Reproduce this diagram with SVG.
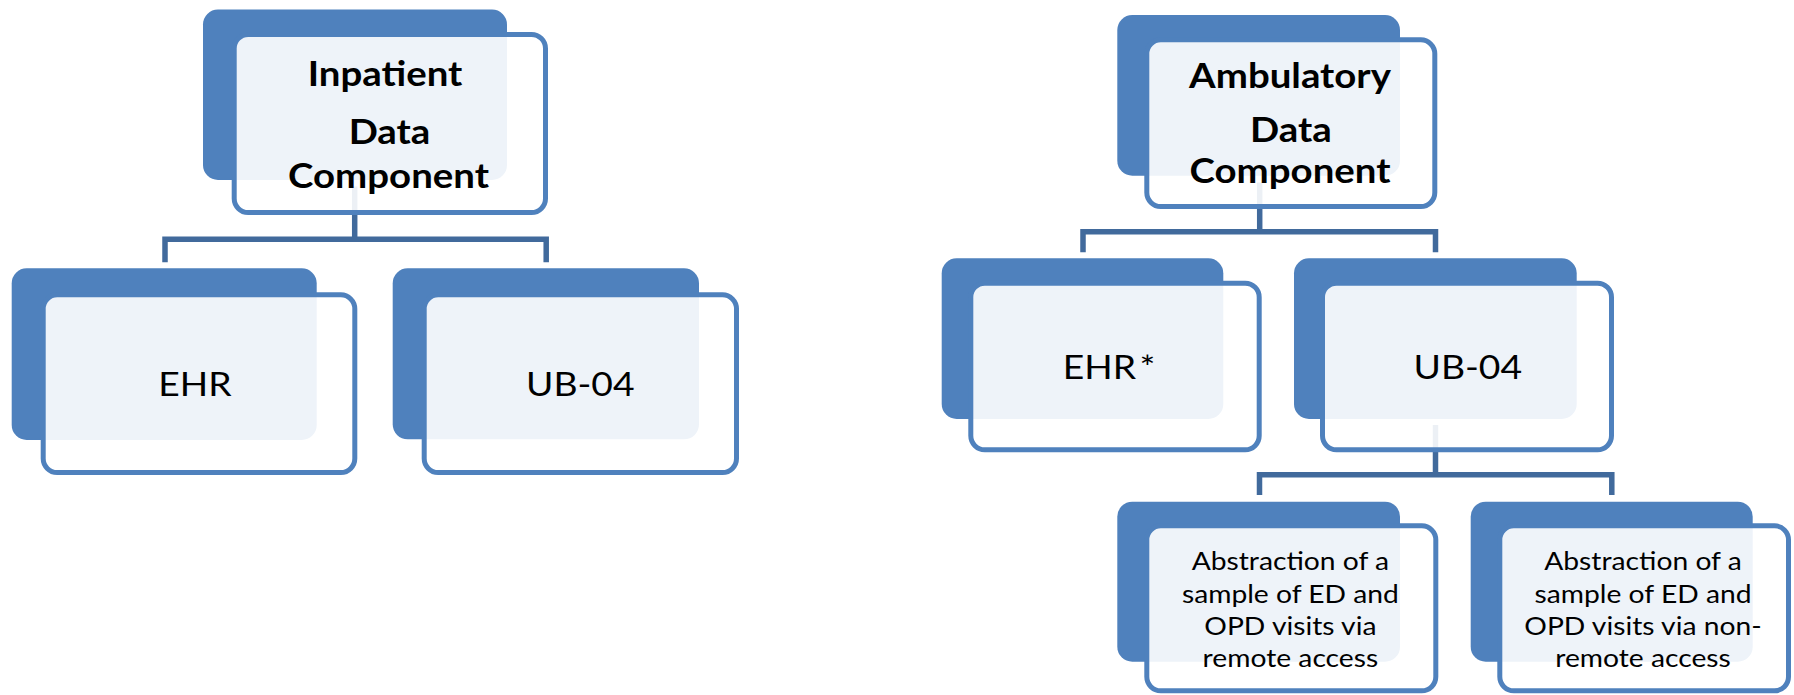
<svg xmlns="http://www.w3.org/2000/svg" width="1794" height="695" viewBox="0 0 1794 695">
<style>
.back{fill:#4F81BD;}
.front{fill:#FFFFFF;fill-opacity:0.9;stroke:#4F81BD;stroke-width:5;}
.conn{fill:none;stroke:#416A9C;stroke-width:5.5;stroke-linejoin:miter;stroke-linecap:butt;}
.title{font-family:Lato,"Liberation Sans",sans-serif;font-weight:bold;font-size:34px;fill:#000;text-anchor:middle;}
.mid{font-family:Lato,"Liberation Sans",sans-serif;font-size:33px;fill:#000;text-anchor:middle;}
.small{font-family:Lato,"Liberation Sans",sans-serif;font-size:25px;fill:#000;text-anchor:middle;}
</style>
<rect width="1794" height="695" fill="#FFFFFF"/>
<g id="connectors">
<path class="conn" d="M354.7,186.5 V239.3"/>
<path class="conn" d="M165,262.3 V239.3 H546.2 V262.3"/>
<path class="conn" d="M1259.7,182.5 V231.7"/>
<path class="conn" d="M1083,252.3 V231.7 H1435.5 V252.3"/>
<path class="conn" d="M1435.5,425 V474.8"/>
<path class="conn" d="M1259.5,495 V474.8 H1611.8 V495"/>
</g>
<g id="inpatient">
<rect class="back" x="203" y="9.5" width="304" height="170.5" rx="15"/>
<rect class="front" x="234.2" y="34.5" width="311.3" height="178" rx="14"/>
<text class="title" transform="translate(385,86) scale(1.13,1)">Inpatient</text>
<text class="title" transform="translate(389.5,144) scale(1.13,1)">Data</text>
<text class="title" transform="translate(388.5,188.3) scale(1.13,1)">Component</text>
</g>
<g id="ehr-inpatient">
<rect class="back" x="11.7" y="268.3" width="305" height="171.7" rx="15"/>
<rect class="front" x="43.2" y="294.8" width="311.6" height="177.7" rx="14"/>
<text class="mid" transform="translate(195,395.7) scale(1.13,1)">EHR</text>
</g>
<g id="ub04-inpatient">
<rect class="back" x="392.7" y="268.3" width="306.3" height="171" rx="15"/>
<rect class="front" x="424.2" y="294.8" width="312.3" height="177.7" rx="14"/>
<text class="mid" transform="translate(580.3,395.7) scale(1.13,1)">UB-04</text>
</g>
<g id="ambulatory">
<rect class="back" x="1117.3" y="15" width="282.7" height="160.7" rx="15"/>
<rect class="front" x="1146.8" y="39.8" width="288" height="166.7" rx="14"/>
<text class="title" transform="translate(1290,88.3) scale(1.13,1)">Ambulatory</text>
<text class="title" transform="translate(1290.8,141.7) scale(1.13,1)">Data</text>
<text class="title" transform="translate(1290,182.7) scale(1.13,1)">Component</text>
</g>
<g id="ehr-ambulatory">
<rect class="back" x="941.7" y="258.3" width="281.6" height="160.7" rx="15"/>
<rect class="front" x="970.8" y="283.2" width="288.4" height="166.6" rx="14"/>
<text class="mid" transform="translate(1109,379) scale(1.13,1)">EHR<tspan dx="3">*</tspan></text>
</g>
<g id="ub04-ambulatory">
<rect class="back" x="1294" y="258.3" width="282.7" height="160.7" rx="15"/>
<rect class="front" x="1322.5" y="283.2" width="289" height="166.6" rx="14"/>
<text class="mid" transform="translate(1467.8,379) scale(1.13,1)">UB-04</text>
</g>
<g id="abstraction-remote">
<rect class="back" x="1117.3" y="501.7" width="282.7" height="160" rx="15"/>
<rect class="front" x="1146.8" y="525.8" width="289" height="165" rx="14"/>
<text class="small" transform="translate(1290.4,570) scale(1.13,1)"><tspan x="0" y="0">Abstraction of a</tspan><tspan x="0" y="33.3">sample of ED and</tspan><tspan x="0" y="65">OPD visits via</tspan><tspan x="0" y="96.7">remote access</tspan></text>
</g>
<g id="abstraction-nonremote">
<rect class="back" x="1470.7" y="501.7" width="282" height="160" rx="15"/>
<rect class="front" x="1499.8" y="525.8" width="288.7" height="165" rx="14"/>
<text class="small" transform="translate(1643,570) scale(1.13,1)"><tspan x="0" y="0">Abstraction of a</tspan><tspan x="0" y="33.3">sample of ED and</tspan><tspan x="0" y="65">OPD visits via non-</tspan><tspan x="0" y="96.7">remote access</tspan></text>
</g>
</svg>
